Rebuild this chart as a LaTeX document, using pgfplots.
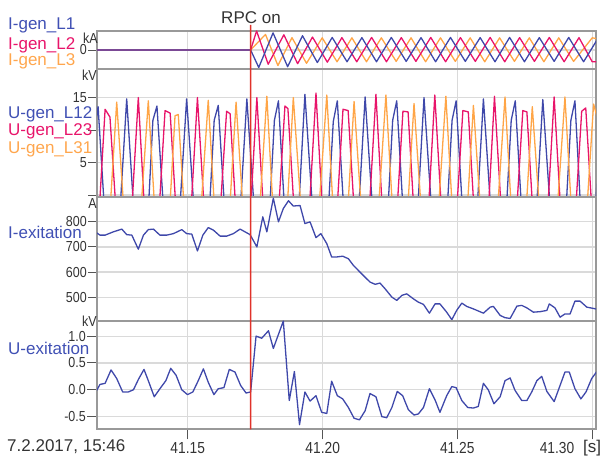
\documentclass[border=0pt]{standalone}
\usepackage{pgfplots}
\pgfplotsset{compat=1.18}
\usepackage{fontspec}
\setmainfont{Liberation Sans}
\newfontfamily\condfont{Liberation Sans}[FakeStretch=0.86]
\definecolor{cblue}{HTML}{3F48AA}
\definecolor{cmag}{HTML}{E8146A}
\definecolor{corange}{HTML}{FFA546}
\definecolor{cblueT}{HTML}{4050B4}
\definecolor{corangeT}{HTML}{FFA64D}
\definecolor{crpc}{HTML}{E0322A}
\definecolor{cgrid}{HTML}{DADADA}
\definecolor{cframe}{HTML}{999999}
\definecolor{ctick}{HTML}{555555}
\definecolor{ctext}{HTML}{333333}
\newcommand\tickfont{\condfont\fontsize{14.5}{16}\selectfont}
\newcommand\xtickfont{\condfont\fontsize{16}{18}\selectfont}
\newcommand\labfont{\fontsize{17}{20}\selectfont}
\pgfplotsset{
  panel/.style={
    scale only axis, width=499pt, xmin=116.4, xmax=301.2,
    xtick={150,200,250,300}, xticklabels={},
    grid=major, major grid style={cgrid, line width=1.2pt},
    axis line style={cframe, line width=1.8pt},
    tick align=outside, major tick length=9pt,
    ytick pos=left, xtick pos=bottom,
    major tick style={ctick, line width=0.9pt},
    yticklabel style={font=\tickfont, text=ctext, inner sep=1pt},
    anchor=south west, no markers,
    every axis plot/.append style={line width=1.3pt, line join=round},
  },
  upper/.style={xmajorticks=false},
}
\begin{document}
\begin{tikzpicture}
\useasboundingbox (0,0) rectangle (601pt,457pt);
% ---------- Panel 1: generator currents ----------
\begin{axis}[panel, upper, at={(97pt,388pt)}, height=38pt,
  ymin=-1, ymax=1, ytick={0}, yticklabels={0}]
\addplot[corange] coordinates {(116.4,0)(173.3,0)(178.8,0.82)(183.4,-0.82)(188.6,0.65)(194.0,-0.7)(199.8,0.64)(205.3,-0.62)(210.8,0.64)(216.2,-0.62)(221.7,0.64)(227.2,-0.6)(232.7,0.64)(238.1,-0.62)(243.6,0.64)(249.1,-0.6)(254.6,0.64)(260.0,-0.62)(265.5,0.64)(271.0,-0.6)(276.5,0.64)(281.9,-0.62)(287.4,0.64)(292.9,-0.6)(299.8,0.64)(301.5,0.6)};
\addplot[cmag] coordinates {(116.4,0)(173.3,0)(175.5,1.0)(179.8,-0.75)(185.6,0.8)(190.7,-0.72)(196.2,0.68)(201.7,-0.64)(207.1,0.65)(212.6,-0.62)(218.1,0.66)(223.6,-0.62)(229.1,0.65)(234.5,-0.6)(240.0,0.66)(245.5,-0.62)(251.0,0.65)(256.5,-0.6)(262.0,0.66)(267.4,-0.62)(272.9,0.65)(278.4,-0.6)(283.9,0.66)(289.4,-0.62)(294.9,0.65)(299.8,-0.62)(301.5,-0.62)};
\addplot[cblue] coordinates {(116.4,0)(173.3,0)(176.3,-0.92)(181.6,0.9)(187.0,-0.88)(192.5,0.75)(198.0,-0.66)(203.5,0.66)(209.0,-0.62)(214.5,0.65)(219.9,-0.62)(225.4,0.66)(230.9,-0.6)(236.4,0.65)(241.8,-0.62)(247.3,0.66)(252.8,-0.6)(258.3,0.65)(263.8,-0.62)(269.2,0.66)(274.7,-0.62)(280.2,0.65)(285.7,-0.6)(291.1,0.66)(296.6,-0.62)(302.1,0.65)};
\coordinate (rpcT) at (axis cs:173.3,1.32);
\end{axis}
% ---------- Panel 2: generator voltages ----------
\begin{axis}[panel, upper, at={(97pt,260pt)}, height=128pt,
  ymin=-0.3, ymax=19.4, ytick={0,5,10,15}, yticklabels={,5,,15}]
\addplot[cblue] coordinates {(115.5,10)(116.8,13.6)(122.1,-22)(127.4,14.8)(133.0,-22)(137.1,11.5)(138.6,13.7)(144.1,-22)(149.6,14.8)(155.5,-22)(159.8,11.5)(161.3,13.8)(166.6,-22)(171.9,14.8)(177.8,-22)(182.1,11.5)(183.6,14.5)(188.5,-22)(193.4,15.5)(199.4,-22)(203.9,11.3)(205.4,14.5)(210.6,-22)(215.7,15.1)(221.6,-22)(225.9,11.5)(227.4,14.5)(232.5,-22)(237.5,15.0)(243.5,-22)(247.9,11.5)(249.4,14.5)(254.5,-22)(259.5,14.8)(265.4,-22)(269.8,11.5)(271.3,14.5)(276.4,-22)(281.5,14.7)(287.5,-22)(291.9,11.5)(293.4,14.5)(298.0,-22)(303.5,15)};
\addplot[cmag] coordinates {(114.5,-22)(119.4,13.2)(121.2,12.0)(126.5,-22)(131.7,15.0)(136.6,-22)(141.6,13.0)(143.5,12.6)(148.5,-22)(153.6,15.0)(159.0,-22)(164.4,12.9)(165.7,12.5)(170.6,-22)(175.6,15.0)(180.8,-22)(186.0,13.7)(187.1,13.3)(192.3,-22)(197.5,15.7)(202.5,-22)(207.5,13.2)(209.4,13.0)(214.5,-22)(219.7,15.5)(224.7,-22)(229.7,12.9)(231.6,12.8)(236.5,-22)(241.5,15.4)(246.7,-22)(251.9,13.0)(253.9,12.8)(258.8,-22)(263.6,15.2)(268.9,-22)(274.1,13.0)(275.6,12.8)(280.6,-22)(285.7,15.1)(290.8,-22)(295.9,12.9)(297.4,13.4)(302.5,-22)};
\addplot[corange] coordinates {(118.3,-22)(123.7,14.3)(129.5,-22)(135.4,14.5)(140.6,-22)(145.3,12.2)(146.5,12.4)(151.7,-22)(157.6,14.6)(162.7,-22)(167.9,14.3)(173.6,-22)(179.3,15.2)(184.2,-22)(189.1,15.0)(195.3,-22)(201.5,15.4)(206.5,-22)(211.6,14.4)(217.5,-22)(223.4,15.4)(228.6,-22)(233.8,14.1)(239.7,-22)(245.6,15.2)(250.7,-22)(255.8,13.8)(261.6,-22)(267.5,15.1)(272.5,-22)(277.6,13.6)(283.6,-22)(289.7,15.1)(294.8,-22)(300.3,14.0)(301.6,12.0)};
\end{axis}
% ---------- Panel 3: excitation current ----------
\begin{axis}[panel, upper, at={(97pt,136.3pt)}, height=123.7pt,
  ymin=406, ymax=899, ytick={500,600,700,800}, yticklabels={500,600,700,800}]
\addplot[cblue] coordinates {(116.3,756)(117.5,747)(119.4,747)(122.4,760)(125.6,771)(127.4,749)(129.3,747)(131.7,691)(133.6,747)(135.4,769)(137.3,771)(139.7,747)(142.2,747)(144.7,753)(147.8,769)(149.6,753)(151.5,751)(153.6,684)(155.6,747)(157.6,777)(159.5,767)(162.0,743)(164.4,743)(166.9,753)(169.4,771)(171.9,756)(173.1,749)(175.6,700)(177.8,820)(179.3,760)(181.7,894)(183.6,800)(185.4,853)(187.3,884)(189.1,863)(191.6,865)(193.4,793)(195.3,800)(197.5,737)(199.3,753)(201.5,713)(203.3,660)(205.2,660)(207.4,663)(209.5,653)(211.3,627)(214.4,593)(217.5,560)(219.4,551)(221.2,556)(223.1,533)(225.6,500)(227.4,487)(229.3,507)(231.1,513)(233.6,493)(235.4,480)(237.3,471)(239.5,436)(241.6,473)(243.4,473)(245.9,440)(247.8,410)(249.6,447)(251.5,476)(253.3,463)(255.8,453)(259.5,436)(262.0,460)(263.2,463)(265.7,427)(267.5,418)(269.4,415)(271.9,464)(273.7,467)(275.6,457)(278.0,440)(280.5,442)(283.0,447)(283.9,473)(286.0,457)(287.9,420)(289.7,433)(291.6,433)(293.4,484)(295.3,484)(297.8,460)(300.2,455)(301.5,452)};
\end{axis}
% ---------- Panel 4: excitation voltage ----------
\begin{axis}[panel, at={(97pt,27.7pt)}, height=108.6pt, major tick length=10pt,
  ymin=-0.736, ymax=1.287, ytick={-0.5,0,0.5,1}, yticklabels={-0.5,0.0,0.5,1.0}]
\addplot[cblue] coordinates {(116.3,-0.01)(117.5,0.10)(119.4,0.12)(121.6,0.37)(123.7,0.21)(125.9,-0.04)(128.0,-0.04)(129.9,0.0)(131.7,0.19)(133.8,0.38)(135.4,0.17)(137.6,-0.13)(139.7,0.02)(141.9,0.17)(143.7,0.40)(145.7,0.27)(147.8,0.0)(149.9,-0.09)(151.9,-0.04)(153.9,0.17)(155.8,0.39)(157.6,0.14)(159.7,-0.09)(161.3,0.02)(163.4,0.04)(165.4,0.38)(167.5,0.33)(169.6,0.08)(171.6,-0.06)(173.3,-0.04)(175.3,1.00)(177.4,0.96)(179.9,1.10)(181.7,0.77)(185.4,1.28)(187.6,-0.20)(189.5,0.34)(191.4,-0.65)(193.4,-0.04)(195.3,-0.21)(197.5,-0.11)(199.6,-0.42)(201.5,-0.44)(203.3,0.16)(205.4,-0.11)(207.4,-0.17)(209.5,-0.33)(211.6,-0.53)(213.6,-0.56)(215.7,-0.39)(217.5,-0.07)(219.7,-0.13)(221.9,-0.50)(223.7,-0.52)(225.6,-0.33)(227.6,-0.03)(229.6,-0.11)(231.7,-0.37)(233.8,-0.47)(235.4,-0.45)(237.3,-0.33)(239.5,0.02)(241.6,-0.19)(243.4,-0.42)(245.9,-0.11)(247.8,0.06)(249.4,0.04)(251.5,-0.20)(253.7,-0.33)(255.8,-0.34)(257.6,-0.31)(259.5,0.12)(261.3,0.0)(263.4,-0.26)(265.7,-0.13)(267.5,0.17)(269.4,0.22)(271.2,-0.01)(273.7,-0.20)(275.6,-0.20)(277.4,-0.04)(279.3,0.17)(281.1,0.25)(283.0,-0.03)(285.7,-0.22)(287.3,0.0)(289.7,0.33)(291.3,0.33)(293.4,0.02)(295.6,-0.17)(297.5,-0.04)(299.6,0.21)(301.5,0.34)};
\coordinate (rpcB) at (axis cs:173.3,-0.736);
\end{axis}
% RPC marker line
\draw[crpc, line width=1.4pt] (rpcB) -- (rpcT);
% ---------- texts ----------
\node[anchor=base, font=\labfont, text=ctext, inner sep=0] at (251pt,433.7pt) {RPC on};
\node[anchor=base west, font=\labfont, text=cblueT, inner sep=0] at (8pt,427.5pt) {I-gen\_L1};
\node[anchor=base west, font=\labfont, text=cmag, inner sep=0] at (8pt,407.7pt) {I-gen\_L2};
\node[anchor=base west, font=\labfont, text=corangeT, inner sep=0] at (8pt,391pt) {I-gen\_L3};
\node[anchor=base west, font=\labfont, text=cblueT, inner sep=0] at (8pt,338.7pt) {U-gen\_L12};
\node[anchor=base west, font=\labfont, text=cmag, inner sep=0] at (8pt,321pt) {U-gen\_L23};
\node[anchor=base west, font=\labfont, text=corangeT, inner sep=0] at (8pt,303pt) {U-gen\_L31};
\node[anchor=base west, font=\labfont, text=cblueT, inner sep=0] at (8pt,218.7pt) {I-exitation};
\node[anchor=base west, font=\labfont, text=cblueT, inner sep=0] at (8pt,102.7pt) {U-exitation};
\node[anchor=base east, font=\tickfont, text=ctext, inner sep=0] at (98pt,413.7pt) {kA};
\node[anchor=base east, font=\tickfont, text=ctext, inner sep=0] at (97pt,376.3pt) {kV};
\node[anchor=base east, font=\tickfont, text=ctext, inner sep=0] at (97pt,248.7pt) {A};
\node[anchor=base east, font=\tickfont, text=ctext, inner sep=0] at (97pt,130.3pt) {kV};
\node[anchor=base west, font=\labfont, text=ctext, inner sep=0] at (7pt,5.3pt) {7.2.2017,\ 15:46};
\node[anchor=base, font=\xtickfont, text=ctext, inner sep=0] at (187.7pt,3.7pt) {41.15};
\node[anchor=base, font=\xtickfont, text=ctext, inner sep=0] at (322.7pt,3.7pt) {41.20};
\node[anchor=base, font=\xtickfont, text=ctext, inner sep=0] at (457.3pt,3.7pt) {41.25};
\node[anchor=base, font=\xtickfont, text=ctext, inner sep=0] at (557pt,3.7pt) {41.30};
\node[anchor=base, font=\labfont, text=ctext, inner sep=0] at (592pt,5pt) {[s]};
\end{tikzpicture}
\end{document}
